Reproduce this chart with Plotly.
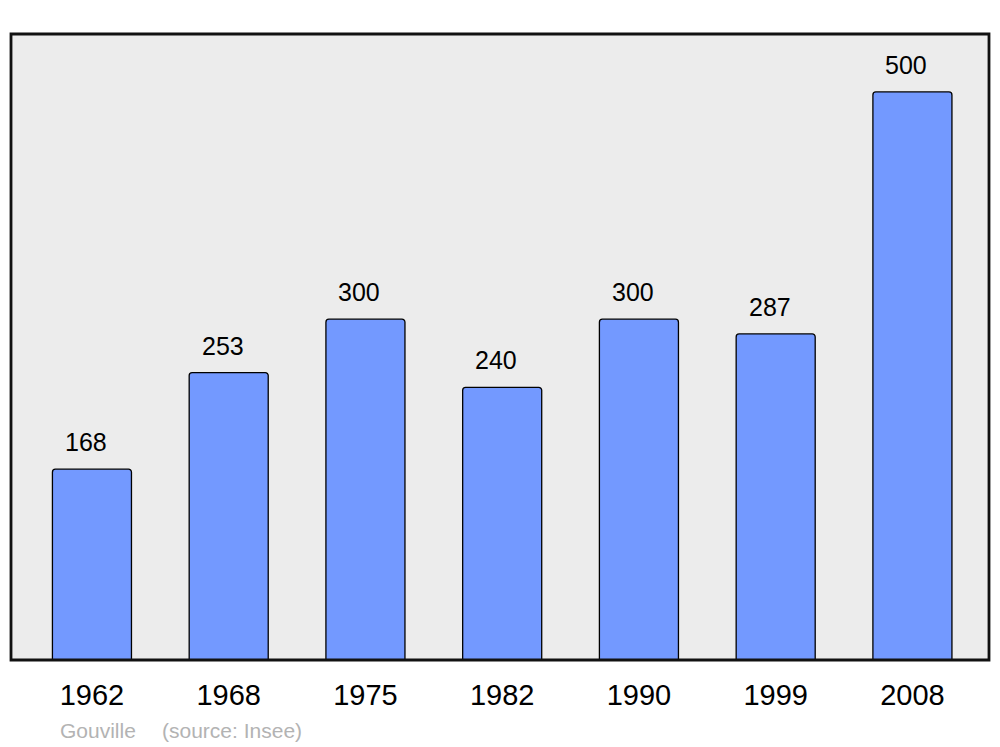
import plotly.graph_objects as go

years = ["1962", "1968", "1975", "1982", "1990", "1999", "2008"]
population = [168, 253, 300, 240, 300, 287, 500]
value_labels = ["168", "253", "300", "240", "300", "287", "500"]
town = "Gouville"
source = "(source: Insee)"

FONT = "Liberation Sans, Arial, sans-serif"

# page has an 8px body offset; target plot box in page pixels: x 11..989, y 34..660
OFF = 8
FIG_W, FIG_H = 1000 - OFF, 747 - OFF
L, R, T, B = 11 - OFF, 11, 34 - OFF, 87

fig = go.Figure()
fig.add_trace(go.Bar(
    x=list(range(len(years))),
    y=population,
    width=0.578,
    marker=dict(color="#7399ff", line=dict(color="#000000", width=1.3)),
    hoverinfo="skip",
))

plot_w = 989 - 11
plot_h = 660 - 34
def px_to_paper_x(px):
    return (px - 11) / plot_w
def px_to_paper_y(py):
    return (660 - py) / plot_h

annotations = []
for i, (v, t) in enumerate(zip(population, value_labels)):
    annotations.append(dict(
        x=i, y=v, xref="x", yref="y", text=t, showarrow=False,
        yanchor="bottom", yshift=11, xshift=-6,
        font=dict(family=FONT, size=25, color="#000000"),
    ))
annotations.append(dict(
    x=px_to_paper_x(58), y=px_to_paper_y(730), xref="paper", yref="paper",
    text=town, showarrow=False, xanchor="left", yanchor="middle",
    font=dict(family=FONT, size=21, color="#b3b3b3"),
))
annotations.append(dict(
    x=px_to_paper_x(160), y=px_to_paper_y(730), xref="paper", yref="paper",
    text=source, showarrow=False, xanchor="left", yanchor="middle",
    font=dict(family=FONT, size=21, color="#b3b3b3"),
))

fig.update_layout(
    width=FIG_W, height=FIG_H,
    margin=dict(l=L, r=R, t=T, b=B),
    paper_bgcolor="#ffffff",
    plot_bgcolor="#ececec",
    showlegend=False,
    barcornerradius=3,
    annotations=annotations,
    xaxis=dict(
        range=[-0.592, 6.56],
        tickmode="array",
        tickvals=list(range(len(years))),
        ticktext=years,
        showgrid=False, zeroline=False, showline=False,
        ticks="", ticklabelstandoff=15,
        tickfont=dict(family=FONT, size=29, color="#000000"),
        fixedrange=True,
    ),
    yaxis=dict(
        range=[0, 551],
        showgrid=False, zeroline=False, showline=False,
        showticklabels=False, ticks="",
        fixedrange=True,
    ),
)

fig.add_shape(
    type="rect", xref="paper", yref="paper", x0=0, x1=1, y0=0, y1=1,
    line=dict(color="#111111", width=2.8), fillcolor="rgba(0,0,0,0)",
    layer="above",
)

fig.write_html("out.html")
